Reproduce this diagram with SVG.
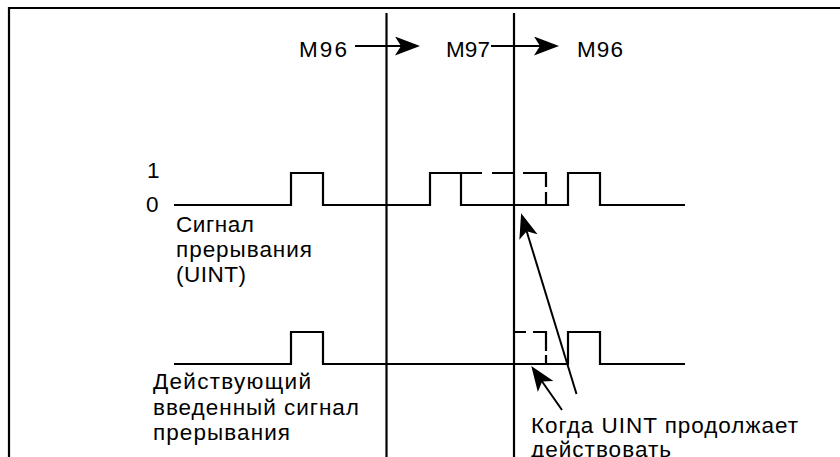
<svg xmlns="http://www.w3.org/2000/svg" width="840" height="457" viewBox="0 0 840 457">
  <defs>
    <style>
      .ln { stroke: #000; stroke-width: 2.2; fill: none; }
      .ds { stroke: #000; stroke-width: 2.2; fill: none; }
      .tx { font-family: "Liberation Sans", Arial, sans-serif; font-size: 22.5px; fill: #000; }
      .ar { stroke: #000; stroke-width: 2; fill: none; marker-end: url(#head); }
    </style>
    <marker id="head" markerUnits="userSpaceOnUse" markerWidth="28" markerHeight="22" refX="22" refY="9.5" orient="auto" viewBox="0 0 28 22">
      <path d="M0,0 L25,9.5 L0,19 L6,9.5 Z" fill="#000"/>
    </marker>
  </defs>
  <rect x="0" y="0" width="840" height="457" fill="#fff"/>

  <g id="frame">
    <path class="ln" d="M9,457 V8 H840"/>
  </g>

  <g id="time-markers">
    <line class="ln" x1="386.5" y1="13" x2="386.5" y2="457"/>
    <line class="ln" x1="514" y1="13" x2="514" y2="457"/>
  </g>

  <g id="mode-labels">
    <text class="tx" x="299" y="57" textLength="48">M96</text>
    <text class="tx" x="446" y="57" textLength="44">M97</text>
    <text class="tx" x="577" y="57" textLength="46">M96</text>
  </g>

  <g id="uint-signal">
    <text class="tx" x="147" y="178">1</text>
    <text class="tx" x="146" y="211.5">0</text>
    <path class="ln" d="M174,205 H291 V173 H323 V205 H430 V173 H461 V205 H568 V173 H600 V205 H685"/>
    <path class="ds" d="M461,173 H482 M492,173 H514 M523,173 H546 V187 M546,192 V205"/>
    <text class="tx" x="176" y="232" textLength="78">Сигнал</text>
    <text class="tx" x="176" y="257" textLength="136">прерывания</text>
    <text class="tx" x="176" y="282" textLength="70">(UINT)</text>
  </g>

  <g id="effective-signal">
    <path class="ln" d="M174,364 H291 V332 H323 V364 H568 V332 H600 V364 H685"/>
    <path class="ds" d="M514,332 H526 M533,332 H546 V351 M546,355 V364"/>
    <text class="tx" x="153" y="389" textLength="158">Действующий</text>
    <text class="tx" x="153" y="414.5" textLength="206">введенный сигнал</text>
    <text class="tx" x="153" y="440" textLength="137">прерывания</text>
  </g>

  <g id="connectors">
    <line class="ar" x1="355" y1="46" x2="417" y2="46"/>
    <line class="ar" x1="491" y1="46" x2="556" y2="46"/>
    <line class="ar" x1="576.5" y1="394" x2="522" y2="216"/>
    <line class="ar" x1="562" y1="410" x2="533" y2="368.5"/>
  </g>

  <g id="note">
    <text class="tx" x="531" y="432.5" textLength="267">Когда UINT продолжает</text>
    <text class="tx" x="531" y="457" textLength="140">действовать</text>
  </g>
</svg>
